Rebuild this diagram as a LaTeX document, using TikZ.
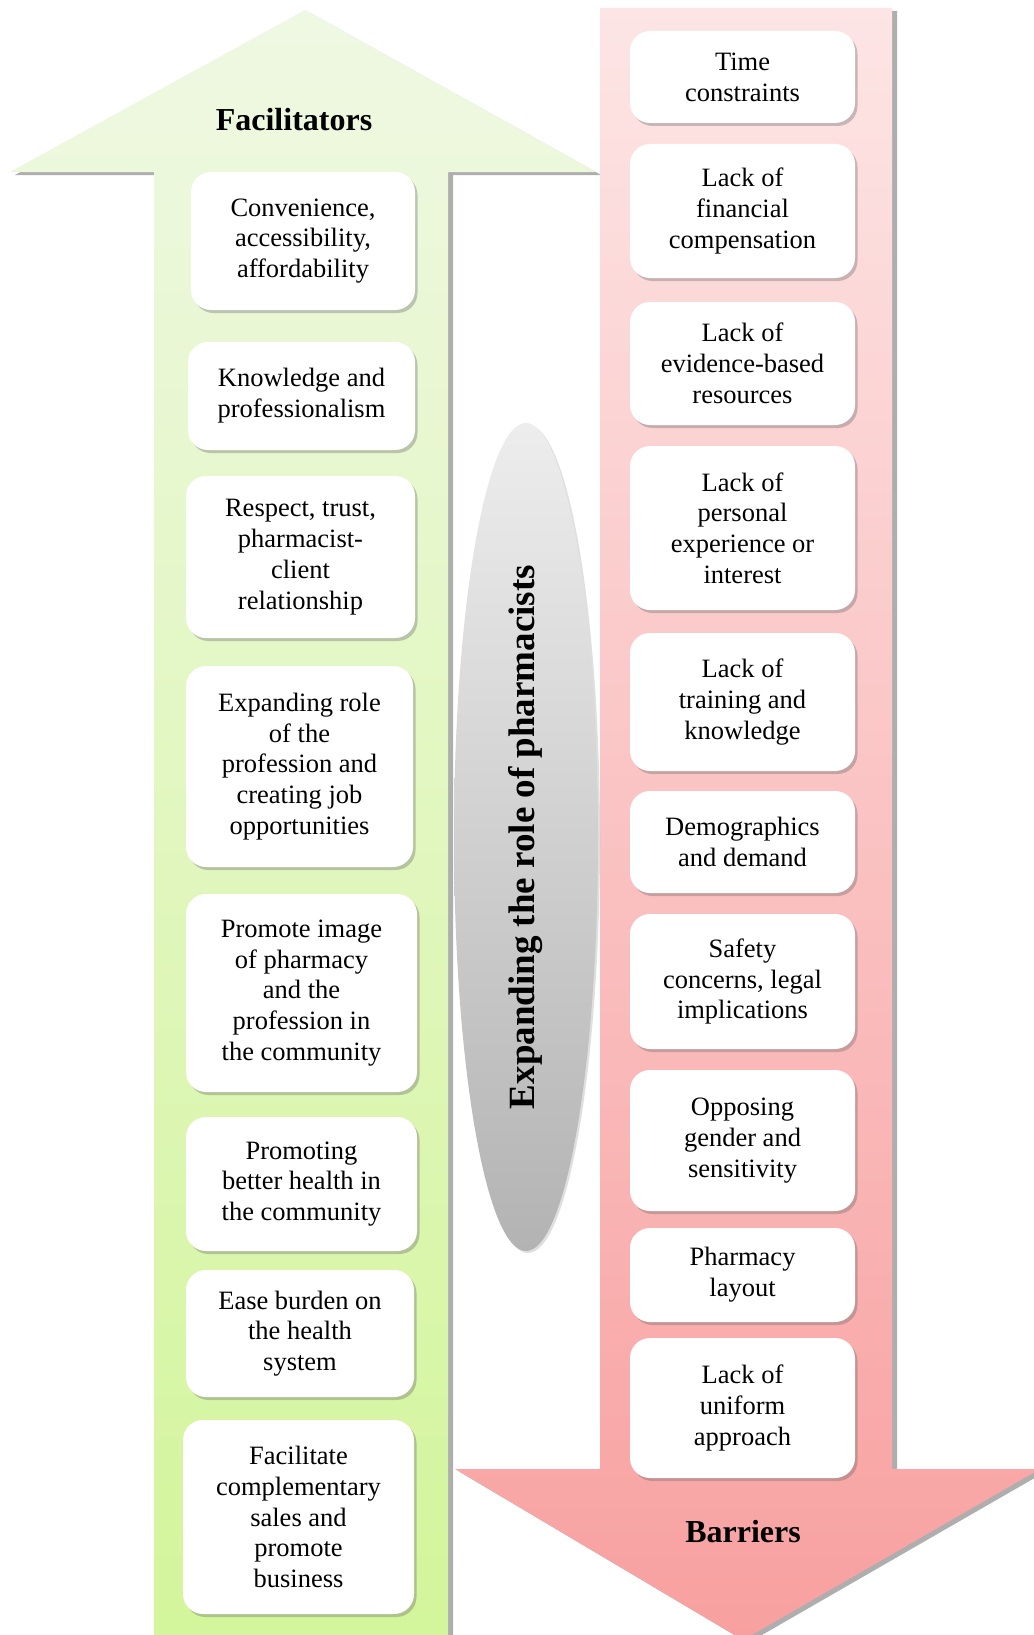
\documentclass[tikz,border=0pt]{standalone}
\usepackage{fontspec}
\setmainfont{Liberation Serif}
\usetikzlibrary{shadows,shapes.geometric}
\definecolor{gtop}{HTML}{EFF8E3}
\definecolor{gbot}{HTML}{D2F598}
\definecolor{rtop}{HTML}{FDE5E5}
\definecolor{rbot}{HTML}{F8A0A0}
\definecolor{etop}{HTML}{EDEDED}
\definecolor{ebot}{HTML}{B3B3B3}
\begin{document}
\begin{tikzpicture}[x=1pt,y=-1pt,
  item/.style={rounded corners=20pt, fill=white, align=center, inner sep=0pt,
    minimum width=225pt, font=\fontsize{26.5}{30.8}\selectfont,
    drop shadow={shadow xshift=2.5pt, shadow yshift=-3pt, opacity=0.35, fill=black!60}},
  titletext/.style={font=\bfseries\fontsize{32}{36}\selectfont},
  arrowshadow/.style={drop shadow={shadow xshift=5pt, shadow yshift=-3pt, opacity=0.45, fill=black!70}}
]
\useasboundingbox[fill=white] (0,0) rectangle (1033,1635);

% Facilitators arrow (up)
\path[arrowshadow, top color=gtop, bottom color=gbot]
  (154,1700) -- (154,172) -- (10,172) -- (305,10) -- (596,172) -- (448,172) -- (448,1700) -- cycle;

% Barriers arrow (down)
\path[arrowshadow, top color=rtop, bottom color=rbot]
  (600,8) -- (892,8) -- (892,1469) -- (1040,1469) -- (743,1640) -- (455,1469) -- (600,1469) -- cycle;

% central ellipse
\node[ellipse, minimum width=144pt, minimum height=828pt, inner sep=0pt,
  top color=etop, bottom color=ebot,
  drop shadow={shadow xshift=2pt, shadow yshift=-2pt, opacity=0.25, fill=black!50}] (hub) at (526,837) {};
\node[rotate=90, font=\bfseries\fontsize{37}{40}\selectfont] (hubtxt) at (hub.center) {Expanding the role of pharmacists};

% titles
\node[titletext] (fac) at (294,120) {Facilitators};
\node[titletext] (bar) at (743,1532) {Barriers};

% facilitators
\node[item, minimum width=224pt, minimum height=138pt] (f1) at (303,241) {Convenience,\\accessibility,\\affordability};
\node[item, minimum width=227pt, minimum height=108pt] (f2) at (301.5,396) {Knowledge and\\professionalism};
\node[item, minimum width=229pt, minimum height=162pt] (f3) at (300.5,557) {Respect, trust,\\pharmacist-\\client\\relationship};
\node[item, minimum width=227pt, minimum height=201pt] (f4) at (299.5,766.5) {Expanding role\\of the\\profession and\\creating job\\opportunities};
\node[item, minimum width=231pt, minimum height=198pt] (f5) at (301.5,993) {Promote image\\of pharmacy\\and the\\profession in\\the community};
\node[item, minimum width=231pt, minimum height=134pt] (f6) at (301.5,1184) {Promoting\\better health in\\the community};
\node[item, minimum width=228pt, minimum height=127pt] (f7) at (300,1333.5) {Ease burden on\\the health\\system};
\node[item, minimum width=231pt, minimum height=194pt] (f8) at (298.5,1517) {Facilitate\\complementary\\sales and\\promote\\business};

% barriers
\node[item, minimum height=92pt] (b1) at (742.5,77) {Time\\constraints};
\node[item, minimum height=134pt] (b2) at (742.5,211) {Lack of\\financial\\compensation};
\node[item, minimum height=123pt] (b3) at (742.5,363.5) {Lack of\\evidence-based\\resources};
\node[item, minimum height=164pt] (b4) at (742.5,528) {Lack of\\personal\\experience or\\interest};
\node[item, minimum height=138pt] (b5) at (742.5,702) {Lack of\\training and\\knowledge};
\node[item, minimum height=102pt] (b6) at (742.5,842) {Demographics\\and demand};
\node[item, minimum height=135pt] (b7) at (742.5,981.5) {Safety\\concerns, legal\\implications};
\node[item, minimum height=141pt] (b8) at (742.5,1140.5) {Opposing\\gender and\\sensitivity};
\node[item, minimum height=94pt] (b9) at (742.5,1275) {Pharmacy\\layout};
\node[item, minimum height=140pt] (b10) at (742.5,1408) {Lack of\\uniform\\approach};
\end{tikzpicture}
\end{document}
